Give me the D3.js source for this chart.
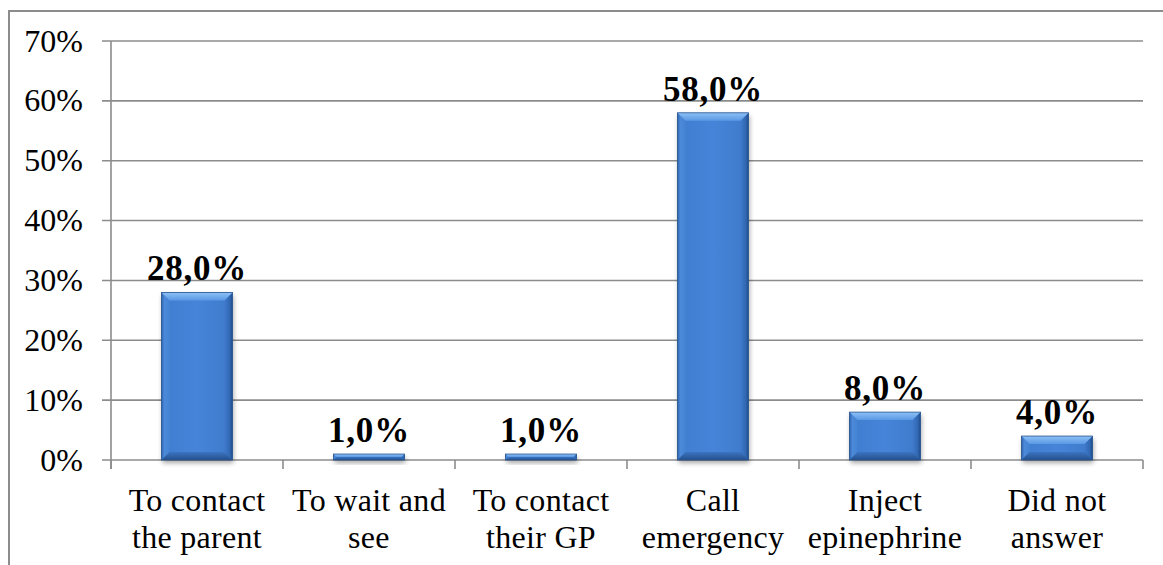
<!DOCTYPE html>
<html>
<head>
<meta charset="utf-8">
<script src="https://cdn.jsdelivr.net/npm/d3@7"></script>
<style>
  html, body { margin: 0; padding: 0; background: #fff; }
  svg { display: block; }
  text { font-family: "Liberation Serif", "DejaVu Serif", serif; fill: #000; }
</style>
</head>
<body>
<svg id="chart" width="1163" height="565"></svg>
<script>
// Responses: what to do first
const categories = [
  ["To contact", "the parent"],
  ["To wait and", "see"],
  ["To contact", "their GP"],
  ["Call", "emergency"],
  ["Inject", "epinephrine"],
  ["Did not", "answer"]
];
const values = [28.0, 1.0, 1.0, 58.0, 8.0, 4.0];
const yTicks = [0, 10, 20, 30, 40, 50, 60, 70];

const svg = d3.select("#chart");
const margin = { left: 111, right: 1143, top: 41, bottom: 460 };
const gridColor = "#8c8c8c";

// outer frame
svg.append("rect")
  .attr("x", 9).attr("y", 11)
  .attr("width", 1200).attr("height", 600)
  .attr("fill", "none").attr("stroke", gridColor).attr("stroke-width", 2);

const x = d3.scaleBand()
  .domain(d3.range(categories.length))
  .range([margin.left, margin.right])
  .paddingInner(0.587).paddingOuter(0.2935);

const xOuter = d3.scaleBand()
  .domain(d3.range(categories.length))
  .range([margin.left, margin.right]);

const y = d3.scaleLinear().domain([0, 70]).range([margin.bottom, margin.top]);

const defs = svg.append("defs");
const shadow = defs.append("filter").attr("id", "shadow")
  .attr("x", "-20%").attr("y", "-20%").attr("width", "140%").attr("height", "140%");
shadow.append("feGaussianBlur").attr("stdDeviation", 2.5);

function grad(id, x1, y1, x2, y2, stops) {
  const g = defs.append("linearGradient").attr("id", id)
    .attr("x1", x1).attr("y1", y1).attr("x2", x2).attr("y2", y2);
  stops.forEach(([o, c]) => g.append("stop").attr("offset", o).attr("stop-color", c));
}
grad("face", 0, 0, 1, 0, [["0%", "#3f7dcf"], ["50%", "#4584d8"], ["100%", "#3e7acb"]]);
grad("bevTop", 0, 0, 0, 1, [["0%", "#8ec2f6"], ["100%", "#5a98e4"]]);
grad("bevLeft", 0, 0, 1, 0, [["0%", "#2d62aa"], ["35%", "#4c8ad9"], ["100%", "#4482d4"]]);
grad("bevRight", 0, 0, 1, 0, [["0%", "#3f7acb"], ["65%", "#3168b3"], ["100%", "#1f4b86"]]);
grad("bevBottom", 0, 0, 0, 1, [["0%", "#3c74c0"], ["100%", "#24508d"]]);

// gridlines
svg.append("g").selectAll("line").data(yTicks).join("line")
  .attr("x1", margin.left - 9).attr("x2", margin.right)
  .attr("y1", d => y(d)).attr("y2", d => y(d))
  .attr("stroke", gridColor).attr("stroke-width", 1.6);

// y axis
svg.append("line")
  .attr("x1", margin.left).attr("x2", margin.left)
  .attr("y1", margin.top).attr("y2", margin.bottom + 9)
  .attr("stroke", gridColor).attr("stroke-width", 1.6);

svg.append("g").selectAll("text").data(yTicks).join("text")
  .attr("x", 83).attr("y", d => y(d) + 10.5)
  .attr("text-anchor", "end")
  .attr("font-size", 32)
  .text(d => d + "%");

// x axis tick marks at category boundaries
const bounds = d3.range(categories.length + 1).map(i =>
  i < categories.length ? xOuter(i) : margin.right);
svg.append("g").selectAll("line").data(bounds).join("line")
  .attr("x1", d => d).attr("x2", d => d)
  .attr("y1", margin.bottom).attr("y2", margin.bottom + 9)
  .attr("stroke", gridColor).attr("stroke-width", 1.6);

// bars with bevelled edges
const bars = svg.append("g");
values.forEach((v, i) => {
  const bx = x(i), bw = x.bandwidth();
  const by = y(v), bh = y(0) - y(v);
  const b = Math.min(8, bh / 2, bw / 2);
  const g = bars.append("g");
  g.append("rect")
    .attr("x", bx + 1).attr("y", by + 3).attr("width", bw).attr("height", bh)
    .attr("fill", "#000").attr("opacity", 0.35).attr("filter", "url(#shadow)");
  g.append("rect")
    .attr("x", bx).attr("y", by).attr("width", bw).attr("height", bh)
    .attr("fill", "url(#face)");
  const poly = (pts, fill) => g.append("polygon")
    .attr("points", pts.map(p => p.join(",")).join(" "))
    .attr("fill", fill);
  poly([[bx, by], [bx + b, by + b], [bx + b, by + bh - b], [bx, by + bh]], "url(#bevLeft)");
  poly([[bx + bw, by], [bx + bw, by + bh], [bx + bw - b, by + bh - b], [bx + bw - b, by + b]], "url(#bevRight)");
  poly([[bx, by + bh], [bx + b, by + bh - b], [bx + bw - b, by + bh - b], [bx + bw, by + bh]], "url(#bevBottom)");
  poly([[bx, by], [bx + bw, by], [bx + bw - b, by + b], [bx + b, by + b]], "url(#bevTop)");
  g.append("rect")
    .attr("x", bx).attr("y", by).attr("width", bw).attr("height", bh)
    .attr("fill", "none").attr("stroke", "#2a5690").attr("stroke-width", 0.8);
});

// value labels
svg.append("g").selectAll("text").data(values).join("text")
  .attr("x", (d, i) => x(i) + x.bandwidth() / 2)
  .attr("y", d => y(d) - 12)
  .attr("text-anchor", "middle")
  .attr("font-size", 35)
  .attr("font-weight", "bold")
  .attr("letter-spacing", 0.8)
  .text(d => d.toFixed(1).replace(".", ",") + "%");

// category labels
const catG = svg.append("g");
categories.forEach((lines, i) => {
  const cx = xOuter(i) + xOuter.bandwidth() / 2;
  const t = catG.append("text")
    .attr("x", cx)
    .attr("y", 511)
    .attr("text-anchor", "middle")
    .attr("font-size", 32)
    .attr("letter-spacing", 0.3);
  lines.forEach((ln, j) => {
    t.append("tspan")
      .attr("x", cx)
      .attr("dy", j === 0 ? 0 : 37)
      .text(ln);
  });
});
</script>
</body>
</html>
